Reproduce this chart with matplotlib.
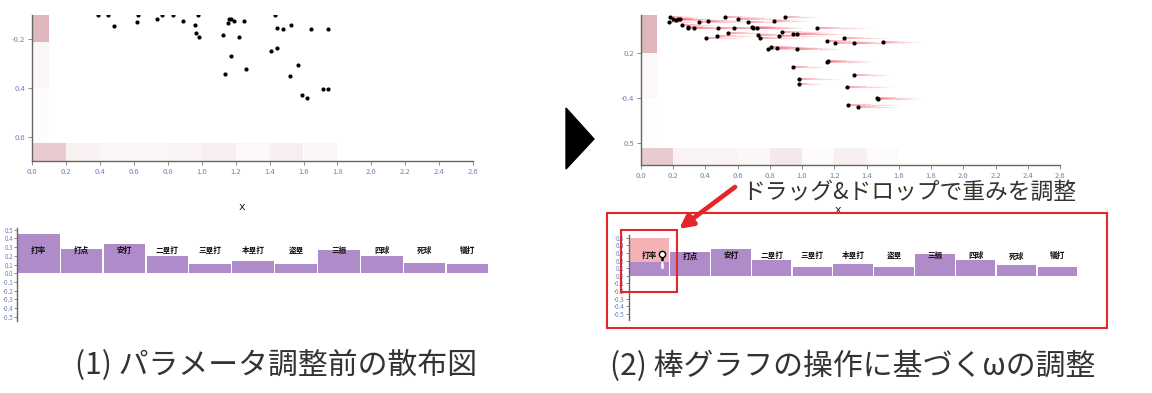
import numpy as np
import matplotlib
matplotlib.use("Agg")
import matplotlib.pyplot as plt
from matplotlib.colors import LinearSegmentedColormap
from matplotlib.collections import LineCollection
from matplotlib.patches import Rectangle, Polygon, FancyArrowPatch

plt.rcParams['font.family'] = ['Noto Sans CJK JP', 'DejaVu Sans']

W, H = 1152, 393

# ---- data -------------------------------------------------------------
categories = ['打率', '打点', '安打', '二塁打', '三塁打', '本塁打', '盗塁', '三振', '四球', '死球', '犠打']
weights_before = [0.45, 0.28, 0.335, 0.196, 0.107, 0.142, 0.107, 0.265, 0.2, 0.123, 0.107]
weights_after = [0.175, 0.307, 0.35, 0.21, 0.114, 0.149, 0.114, 0.29, 0.21, 0.136, 0.114]
drag_preview = 0.49  # 打率 while dragging

left_x = [0.389, 0.448, 0.622, 0.763, 0.832, 0.979, 1.432,
          0.484, 0.620, 0.738, 0.887, 0.960, 0.964, 0.983, 1.127, 1.157, 1.163, 1.172,
          1.192, 1.251, 1.221, 1.174, 1.139, 1.261, 1.406, 1.446, 1.442, 1.481, 1.524,
          1.518, 1.569, 1.642, 1.746, 1.593, 1.623, 1.717, 1.746]
left_y = [-0.1, -0.1, -0.1, -0.1, -0.1, -0.1, -0.1,
          -0.144, -0.129, -0.118, -0.125, -0.140, -0.175, -0.189, -0.181, -0.132, -0.118, -0.117,
          -0.124, -0.124, -0.189, -0.269, -0.343, -0.321, -0.247, -0.237, -0.152, -0.159, -0.140,
          -0.351, -0.304, -0.159, -0.159, -0.429, -0.442, -0.405, -0.404]

right_x = [0.180, 0.174, 0.197, 0.217, 0.232, 0.242, 0.253, 0.290, 0.294, 0.329, 0.362, 0.418,
           0.522, 0.480, 0.470, 0.404, 0.542, 0.580, 0.600, 0.667, 0.687, 0.698, 0.718, 0.729,
           0.739, 0.826, 0.859, 0.874, 0.894, 0.946, 0.971, 1.095, 1.153, 1.201, 1.261, 1.323,
           1.499, 0.791, 0.805, 0.843, 0.971, 1.157, 1.163, 0.946, 1.323, 0.983, 0.983, 1.281,
           1.464, 1.468, 1.283, 1.346]
right_y = [-0.038, -0.063, -0.046, -0.053, -0.048, -0.048, -0.075, -0.082, -0.090, -0.087, -0.060, -0.057,
           -0.041, -0.090, -0.122, -0.134, -0.112, -0.090, -0.048, -0.063, -0.082, -0.090, -0.090, -0.119,
           -0.131, -0.057, -0.122, -0.107, -0.038, -0.114, -0.114, -0.090, -0.144, -0.153, -0.134, -0.153,
           -0.151, -0.181, -0.175, -0.178, -0.182, -0.240, -0.234, -0.263, -0.300, -0.317, -0.340, -0.350,
           -0.401, -0.404, -0.432, -0.440]
right_trail = [0.2, 0.19, 0.2, 0.25, 0.22, 0.2, 0.25, 0.22, 0.25, 0.28, 0.3, 0.3,
               0.26, 0.3, 0.28, 0.25, 0.3, 0.28, 0.4, 0.25, 0.3, 0.3, 0.28, 0.3,
               0.3, 0.24, 0.3, 0.3, 0.22, 0.32, 0.3, 0.35, 0.3, 0.3, 0.3, 0.33,
               0.25, 0.3, 0.3, 0.37, 0.3, 0.29, 0.27, 0.23, 0.24, 0.27, 0.15, 0.29,
               0.28, 0.25, 0.34, 0.27]

# marginal density strips
left_col_edges = [-0.1, -0.21, -0.4, -0.625]
left_col_vals = [0.42, 0.05, 0.025]
left_row_vals = [0.3, 0.08, 0.05, 0.05, 0.07, 0.1, 0.04, 0.1, 0.05]
right_col_edges = [-0.03, -0.2, -0.4, -0.626]
right_col_vals = [0.42, 0.04, 0.02]
right_row_vals = [0.3, 0.07, 0.07, 0.05, 0.13, 0.03, 0.09, 0.03]

xticks = np.round(np.arange(0, 2.61, 0.2), 1)
left_ytick_labels = ['-0.2', '0.4', '0.6']
right_ytick_labels = ['0.2', '-0.4', '0.5']
bar_yticks = np.round(np.arange(0.5, -0.51, -0.1), 1)

# ---- style ------------------------------------------------------------
heat = LinearSegmentedColormap.from_list('heat', ['#ffffff', '#b3505e'])
PURPLE = '#b08bc9'
PINK = '#f6b1b6'
TICKC = '#6f80b8'
RED = '#e4262c'


def rect(x0, y0, x1, y1):
    return [x0 / W, 1 - y1 / H, (x1 - x0) / W, (y1 - y0) / H]


def style_axes(ax):
    for s in ['top', 'right']:
        ax.spines[s].set_visible(False)
    for s in ['left', 'bottom']:
        ax.spines[s].set_color('#666666')
        ax.spines[s].set_linewidth(1)
    ax.tick_params(labelsize=5.5, length=3, width=0.6, color='#777777',
                   labelcolor=TICKC, pad=2)


def scatter_panel(ax, xs, ys, col_edges, col_vals, row_vals, ylim, ylabels):
    ax.set_xlim(0, 2.6)
    ax.set_ylim(*ylim)
    # marginal strips
    ce = np.array(col_edges)
    ax.barh((ce[:-1] + ce[1:]) / 2, 0.1, height=np.abs(np.diff(ce)), left=0,
            color=heat(col_vals), linewidth=0, zorder=1)
    ax.bar(np.arange(len(row_vals)) * 0.2 + 0.1, 0.075, width=0.2, bottom=ylim[0],
           color=heat(row_vals), linewidth=0, zorder=1)
    ax.scatter(xs, ys, s=9, color='black', zorder=4, linewidths=0)
    ax.set_xticks(xticks)
    ax.set_xticklabels([f'{v:.1f}' for v in xticks])
    ax.set_yticks([-0.2, -0.4, -0.6])
    ax.set_yticklabels(ylabels, color='#555555')
    style_axes(ax)
    ax.set_xlabel('x', fontsize=8, family='DejaVu Sans', color='#222222')


def bar_panel(ax, vals, ylim):
    pos = np.arange(len(categories))
    ax.bar(pos, vals, width=0.97, color=PURPLE, linewidth=0, zorder=2)
    for p, c in zip(pos, categories):
        ax.text(p, 0.26, c, ha='center', va='center', fontsize=5.5,
                fontweight='bold', color='#111111', zorder=5)
    ax.set_xlim(-0.5, 10.5)
    ax.set_ylim(*ylim)
    ax.set_xticks([])
    ax.set_yticks(bar_yticks)
    ax.set_yticklabels([f'{v:.1f}' for v in bar_yticks])
    style_axes(ax)
    ax.spines['bottom'].set_visible(False)
    ax.tick_params(labelsize=4.5, length=2, pad=1)


fig = plt.figure(figsize=(W / 100, H / 100), dpi=100)
fig.patch.set_facecolor('white')

# (1) before
ax1 = fig.add_axes(rect(32.3, 15, 473, 161))
scatter_panel(ax1, left_x, left_y, left_col_edges, left_col_vals, left_row_vals,
              (-0.7, -0.1), left_ytick_labels)
ax1.xaxis.set_label_coords(0.476, -0.28)

ax2 = fig.add_axes(rect(17.3, 228, 489, 321))
bar_panel(ax2, weights_before, (-0.55, 0.52))

# (2) after
ax3 = fig.add_axes(rect(641, 15, 1060, 165))
# motion trails
segs, cols, lws = [], [], []
n = 12
for x, y, t in zip(right_x, right_y, right_trail):
    for k in range(n):
        segs.append([(x + t * k / n, y), (x + t * (k + 1) / n, y)])
        cols.append((0.95, 0.42, 0.47, 0.6 * (1 - k / n)))
        lws.append(1.1 * (1 - k / n) + 0.4)
ax3.add_collection(LineCollection(segs, colors=cols, linewidths=lws, zorder=3))
scatter_panel(ax3, right_x, right_y, right_col_edges, right_col_vals, right_row_vals,
              (-0.7, -0.03), right_ytick_labels)
ax3.xaxis.set_label_coords(0.47, -0.27)

ax4 = fig.add_axes(rect(628.8, 235, 1077.7, 320))
ax4.bar([0], [drag_preview], width=0.97, color=PINK, linewidth=0, zorder=1)
bar_panel(ax4, weights_after, (-0.58, 0.535))
# drag handle
ax4.plot([0.32, 0.32], [0.27, weights_after[0]], color='black', lw=1.8, zorder=6)
ax4.plot([0.32, 0.32], [weights_after[0], 0.12], color='white', lw=1.8, zorder=6)
ax4.plot([0.32], [0.28], marker='o', ms=4.5, mfc='white', mec='black', mew=1, zorder=7)

# ---- overlay: arrow, boxes, captions -----------------------------------
ov = fig.add_axes([0, 0, 1, 1], zorder=10)
ov.set_xlim(0, W)
ov.set_ylim(H, 0)
ov.axis('off')
ov.add_patch(Polygon([(566, 108), (566, 169), (594, 139)], closed=True, color='black'))
ov.add_patch(Rectangle((607.3, 213.3), 500, 114.4, fill=False, ec=RED, lw=1.5))
ov.add_patch(Rectangle((620.7, 230), 56.6, 61.7, fill=False, ec=RED, lw=1.5))
ov.add_patch(FancyArrowPatch((735, 187), (679, 229), arrowstyle='-|>',
                             mutation_scale=20, lw=3.4, color=RED, shrinkA=0, shrinkB=0))
ov.text(742, 192, 'ドラッグ&ドロップで重みを調整', fontsize=16.4, color='#333333',
        ha='left', va='center')
ov.text(276, 366, '(1) パラメータ調整前の散布図', fontsize=21.5, color='#333333',
        ha='center', va='center')
ov.text(853, 366, '(2) 棒グラフの操作に基づくωの調整', fontsize=21.5, color='#333333',
        ha='center', va='center')

fig.savefig('out.png', dpi=100, facecolor='white')
